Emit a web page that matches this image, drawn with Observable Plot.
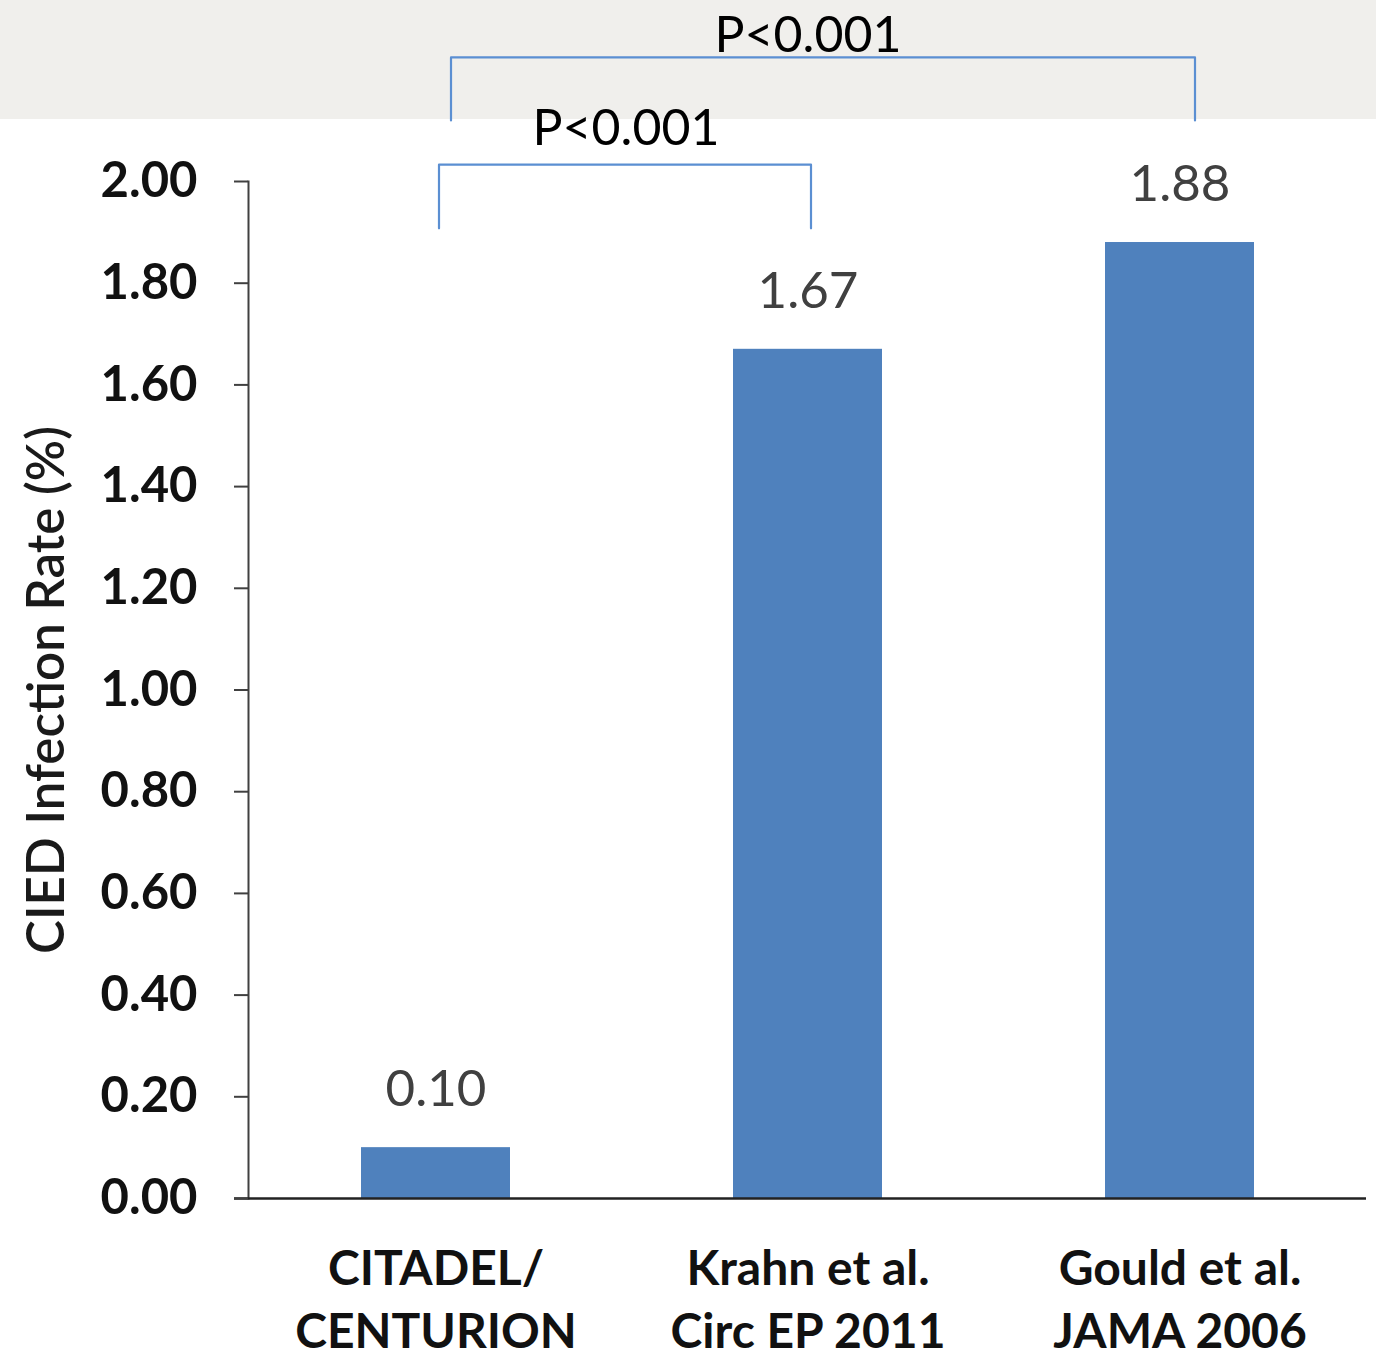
<!DOCTYPE html>
<html>
<head>
<meta charset="utf-8">
<script src="https://cdn.jsdelivr.net/npm/d3@7"></script>
<script src="https://cdn.jsdelivr.net/npm/@observablehq/plot@0.6"></script>
<style>
  html, body { margin: 0; padding: 0; background: #ffffff; }
  #chart {
    width: 1376px; height: 1361px;
    background: linear-gradient(to bottom, #f0efec 0px, #f0efec 119px, #ffffff 119px, #ffffff 100%);
  }
</style>
</head>
<body>
<div id="chart"></div>
<script>
// ---- data ----
const studies = ["CITADEL/\nCENTURION", "Krahn et al.\nCirc EP 2011", "Gould et al.\nJAMA 2006"];
const rates = [0.10, 1.67, 1.88];
const rateLabels = ["0.10", "1.67", "1.88"];
const yTicks = [0, 0.2, 0.4, 0.6, 0.8, 1.0, 1.2, 1.4, 1.6, 1.8, 2.0];
const yLabel = "CIED Infection Rate (%)";
// significance brackets: [from, to, top level, foot level, label]
const bracketFrom = [studies[0], studies[0]];
const bracketTo = [studies[2], studies[1]];
const bracketTop = [2.244, 2.033];
const bracketFoot = [2.12, 1.908];
const bracketText = ["P<0.001", "P<0.001"];
const bracketTextY = [2.287, 2.104];

const bars = studies.map((s, i) => ({study: s, rate: rates[i], label: rateLabels[i]}));
const bracketPaths = bracketFrom.map((f, i) => [
  {x: f, y: bracketFoot[i]},
  {x: f, y: bracketTop[i]},
  {x: bracketTo[i], y: bracketTop[i]},
  {x: bracketTo[i], y: bracketFoot[i]}
]);

const font = "Lato, 'Open Sans', sans-serif";
const blue = "#4f81bd";
const bracketBlue = "#5b8fd2";

const plot = Plot.plot({
  width: 1376,
  height: 1361,
  marginLeft: 248,
  marginRight: 10,
  marginTop: 181,
  marginBottom: 163,
  style: {background: "transparent", fontFamily: font, overflow: "visible"},
  x: {domain: studies, paddingInner: 0.6, paddingOuter: 0.3},
  y: {domain: [0, 2]},
  marks: [
    Plot.barY(bars, {x: "study", y: "rate", fill: blue}),
    Plot.frame({anchor: "left", stroke: "#404040", strokeWidth: 2}),
    Plot.ruleY([0], {stroke: "#222", strokeWidth: 2.5, insetLeft: -14}),
    Plot.axisY({
      ticks: yTicks, tickFormat: d3.format(".2f"), tickSize: 14, tickPadding: 37,
      fontSize: 49, fontWeight: "bold", fill: "#111", stroke: "#404040", strokeWidth: 2,
      label: null
    }),
    Plot.axisX({
      tickSize: 0, tickPadding: 41, fontSize: 48, fontWeight: "bold", fill: "#111",
      lineHeight: 1.32, label: null
    }),
    Plot.text([yLabel], {
      frameAnchor: "left", text: d => d, rotate: -90, dx: -201,
      textAnchor: "middle", lineAnchor: "middle",
      fontSize: 51, fontWeight: 600, fill: "#1a1a1a"
    }),
    Plot.text(bars, {
      x: "study", y: "rate", text: "label", dy: -58,
      fontSize: 51, fill: "#404040"
    }),
    Plot.line(bracketPaths[0], {x: "x", y: "y", dx: 15, stroke: bracketBlue, strokeWidth: 2.2}),
    Plot.line(bracketPaths[1], {x: "x", y: "y", dx: 3, stroke: bracketBlue, strokeWidth: 2.2}),
    Plot.text([bracketText[0]], {x: [studies[1]], y: [bracketTextY[0]], text: d => d, fontSize: 50, fill: "#000"}),
    Plot.text([bracketText[1]], {x: [studies[0]], y: [bracketTextY[1]], text: d => d, dx: 190, fontSize: 50, fill: "#000"})
  ]
});
document.getElementById("chart").appendChild(plot);
</script>
</body>
</html>
